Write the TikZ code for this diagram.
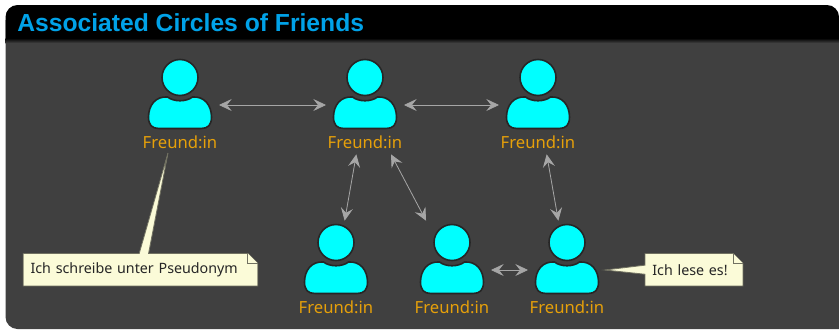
\documentclass[tikz,border=0pt]{standalone}
\usepackage{fontspec}
\setmainfont{Noto Sans}
\newfontfamily\titlefont{Liberation Sans}
\usetikzlibrary{arrows.meta,backgrounds}

\definecolor{panelgray}{HTML}{404040}
\definecolor{titleblue}{HTML}{00A2E8}
\definecolor{friendcyan}{HTML}{00FFFF}
\definecolor{friendorange}{HTML}{E6A00A}
\definecolor{linkgray}{HTML}{A6A6A6}
\definecolor{noteyellow}{HTML}{FBFBD8}

\tikzset{
  personbox/.style={rectangle, minimum width=58.5pt, minimum height=74pt, inner sep=0pt, outer sep=0pt},
  personpart/.style={draw=black!85, fill=friendcyan, line width=1.2pt},
  friendlabel/.style={text=friendorange, font=\fontsize{12.5}{14}\selectfont, inner sep=0pt},
  friendlink/.style={draw=linkgray, line width=0.6pt, {Stealth[length=9.5pt,width=9pt,inset=3.5pt]}-{Stealth[length=9.5pt,width=9pt,inset=3.5pt]}},
  notebox/.style={minimum height=24pt, inner xsep=5.25pt, inner ysep=0pt, align=left, text=black!85, font=\fontsize{10.7}{12}\selectfont},
  noteline/.style={draw=black!55!noteyellow, line width=0.6pt, fill=noteyellow},
  person/.pic={
    \draw[personpart] (0,-27.5) circle (18);
    \draw[personpart] (-12.5,-8) .. controls (-6,-3) and (6,-3) .. (12.5,-8)
      .. controls (24,-9) and (31.5,0) .. (31.5,12)
      .. controls (31.5,20) and (28,23.5) .. (21,23.5) -- (-21,23.5)
      .. controls (-28,23.5) and (-31.5,20) .. (-31.5,12)
      .. controls (-31.5,0) and (-24,-9) .. (-12.5,-8) -- cycle;
  }
}

\begin{document}
\begin{tikzpicture}[x=0.75pt,y=-0.75pt]
    \useasboundingbox (0,0) rectangle (839,329);

    % friends
    \foreach \name/\x/\y in {f1/180/105, f2/365/105, f3/538/105, f4/336/270, f5/452/270, f6/567/270} {
        \node[personbox] (\name) at (\x,\y) {};
        \pic at (\name) {person};
        \node[friendlabel] (\name label) at (\x,\y+37) {Freund:in};
    }

    % links
    \draw[friendlink] (f1) -- (f2);
    \draw[friendlink] (f2) -- (f3);
    \draw[friendlink] (f2) -- (f4);
    \draw[friendlink] (f2) -- (f5);
    \draw[friendlink] (f3) -- (f6);
    \draw[friendlink] (f5) -- (f6);

    % notes
    \coordinate (tipA) at (168,153);
    \coordinate (tipB) at (605,270);
    \node[notebox, text width=165pt] (noteA) at (140.5,269.7) {Ich schreibe unter Pseudonym};
    \node[notebox, text width=62.5pt] (noteB) at (694,269.7) {Ich lese es!};

    \begin{scope}[on background layer]
        % panel and title band
        \fill[white] (0,0) rectangle (839,329);
        \fill[panelgray] (5.5,20) [rounded corners=9pt] -- (5.5,329) [sharp corners] -- (839,329) -- (839,20) -- cycle;
        \shade[top color=black, bottom color=panelgray] (5.5,38) rectangle (839,43);
        \fill[black] (5.5,39) [rounded corners=9pt] -- (5.5,5) -- (839,5) [sharp corners] -- (839,39) -- cycle;

        \draw[noteline] (noteA.north west) -- ([xshift=87pt]noteA.north west) -- (tipA) -- ([xshift=94pt]noteA.north west)
            -- ([xshift=-7.5pt]noteA.north east) -- ([yshift=-7.5pt]noteA.north east) -- (noteA.south east) -- (noteA.south west) -- cycle;
        \draw[noteline] ([xshift=-7.5pt]noteA.north east) -- ([xshift=-7.5pt,yshift=-7.5pt]noteA.north east) -- ([yshift=-7.5pt]noteA.north east);
        \draw[noteline] (noteB.north west) -- ([xshift=-7.5pt]noteB.north east) -- ([yshift=-7.5pt]noteB.north east) -- (noteB.south east) -- (noteB.south west)
            -- ([yshift=-3.4pt]noteB.west) -- (tipB) -- ([yshift=3.4pt]noteB.west) -- cycle;
        \draw[noteline] ([xshift=-7.5pt]noteB.north east) -- ([xshift=-7.5pt,yshift=-7.5pt]noteB.north east) -- ([yshift=-7.5pt]noteB.north east);
    \end{scope}
    \node[anchor=west, inner sep=0pt, text=titleblue, font=\titlefont\bfseries\fontsize{18.5}{22}\selectfont] (title) at (17,23) {Associated Circles of Friends};
\end{tikzpicture}
\end{document}
